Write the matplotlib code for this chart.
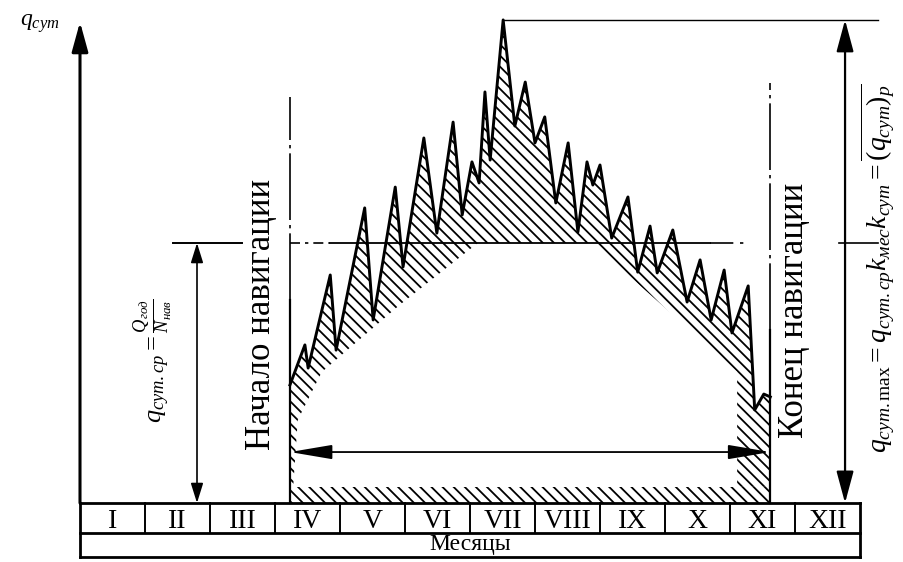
import numpy as np
import matplotlib
matplotlib.use('Agg')
import matplotlib.pyplot as plt
from matplotlib.patches import Polygon

plt.rcParams['font.family'] = ['Liberation Serif', 'DejaVu Serif']
plt.rcParams['mathtext.fontset'] = 'custom'
plt.rcParams['mathtext.rm'] = 'Liberation Serif'
plt.rcParams['mathtext.it'] = 'Liberation Serif:italic'
plt.rcParams['mathtext.bf'] = 'Liberation Serif:bold'
plt.rcParams['hatch.linewidth'] = 1.3

# ---- данные (x = месяцы от начала года, q = доли среднесуточного) ----
months = ['I', 'II', 'III', 'IV', 'V', 'VI', 'VII', 'VIII', 'IX', 'X', 'XI', 'XII']
nav_start, nav_end = 3.23, 10.62
q_avg = 1.0
# суточная неравномерность (пилообразная кривая)
zz_m = [3.23, 3.46, 3.51, 3.85, 3.94, 4.38, 4.51, 4.85, 4.97, 5.29, 5.49, 5.74, 5.88,
        6.03, 6.14, 6.23, 6.31, 6.51, 6.69, 6.85, 7.00, 7.15, 7.32, 7.51, 7.66, 7.80,
        7.89, 8.00, 8.18, 8.43, 8.58, 8.77, 8.88, 9.12, 9.34, 9.54, 9.71, 9.91, 10.03,
        10.28, 10.38, 10.52, 10.62]
zz_q = [0.454, 0.608, 0.519, 0.877, 0.588, 1.135, 0.704, 1.215, 0.908, 1.404, 1.038, 1.465, 1.108,
        1.312, 1.231, 1.581, 1.319, 1.858, 1.450, 1.619, 1.385, 1.485, 1.154, 1.385, 1.042, 1.312,
        1.223, 1.300, 1.019, 1.177, 0.888, 1.065, 0.885, 1.050, 0.773, 0.935, 0.704, 0.896, 0.654,
        0.835, 0.358, 0.419, 0.408]
# нижняя граница заштрихованной области (справа налево)
env_m = [10.62, 10.11, 10.11, 7.88, 6.12, 4.92, 3.72, 3.35, 3.28, 3.23]
env_q = [0.062, 0.062, 0.504, 1.0, 1.0, 0.762, 0.504, 0.319, 0.062, 0.062]
strip_q = 0.062

fig = plt.figure(figsize=(9.04, 5.62), dpi=100)
ax = fig.add_axes([0, 0, 1, 1])
ax.set_xlim(-80/65, 824/65); ax.set_ylim(-59/260, 503/260); ax.axis('off')
K = dict(color='k')

# штриховка
pts = np.column_stack([zz_m + env_m, zz_q + env_q])
ax.add_patch(Polygon(pts, closed=True, fill=False, hatch='\\\\\\', edgecolor='k', lw=0))
ax.add_patch(Polygon([[nav_start, 0], [nav_end, 0], [nav_end, strip_q], [nav_start, strip_q]],
                     closed=True, fill=False, hatch='\\\\\\', edgecolor='k', lw=0))
ax.plot(zz_m, zz_q, lw=2.1, solid_joinstyle='round', **K)

# границы навигации
ax.plot([nav_start]*2, [0, 0.78], lw=1.6, **K)
ax.plot([nav_start]*2, [0.78, 1.56], lw=1.2, ls=(0, (40, 3, 2, 3)), **K)
ax.plot([nav_end]*2, [0, 0.665], lw=1.6, **K)
ax.plot([nav_end]*2, [0.665, 1.615], lw=1.2, ls=(0, (40, 3, 2, 3)), **K)

# средняя линия
ax.plot([1.43, 2.49], [q_avg]*2, lw=1.4, **K)
ax.plot([nav_start, 3.85], [q_avg]*2, lw=1.2, ls=(0, (6, 3, 2, 3)), **K)
ax.plot([3.85, 9.7], [q_avg]*2, lw=1.3, **K)
ax.plot([9.7, 10.3], [q_avg]*2, lw=1.2, ls=(0, (14, 4, 2, 4)), **K)
ax.plot([11.67, 12.27], [q_avg]*2, lw=1.2, **K)
q_max = max(zz_q); m_max = zz_m[zz_q.index(q_max)]
ax.plot([m_max, 12.27], [q_max]*2, lw=1.0, **K)

# оси и размерные стрелки
def arrow(x0, y0, x1, y1, style, ms=15, lw=1.6):
    ax.annotate('', xy=(x1, y1), xytext=(x0, y0),
                arrowprops=dict(arrowstyle=style, color='k', lw=lw, mutation_scale=ms,
                                shrinkA=0, shrinkB=0))
arrow(0, 0, 0, 1.85, '-|>,head_length=1.2,head_width=0.33', lw=2.2)
arrow(1.8, 0, 1.8, q_avg, '<|-|>,head_length=0.8,head_width=0.25', lw=1.2)
arrow(11.77, 0, 11.77, q_max, '<|-|>,head_length=1.3,head_width=0.35', lw=1.6)
arrow(nav_start, 0.196, nav_end, 0.196, '<|-|>,head_length=1.3,head_width=0.22', ms=20, lw=1.3)

# таблица месяцев
row1, row2 = -0.115, -0.208
for y in (0, row1, row2):
    ax.plot([0, 12], [y, y], lw=2.0, **K)
for i in range(13):
    ax.plot([i, i], [0, row2 if i in (0, 12) else row1], lw=2.0 if i in (0, 12) else 1.4, **K)
for i, lab in enumerate(months):
    ax.text(i + 0.5, -0.097, lab, ha='center', va='baseline', fontsize=20)
ax.text(6, (row1 + row2)/2, 'Месяцы', ha='center', va='center', fontsize=17)

# подписи
ax.text(-0.62, 1.842, r'$q_{сут}$', ha='center', va='center', fontsize=17)
ax.text(2.8, 0.727, 'Начало навигации', rotation=90, ha='center', va='center', fontsize=25)
ax.text(11.0, 0.742, 'Конец навигации', rotation=90, ha='center', va='center', fontsize=25)
ax.text(1.13, 0.546, r'$q_{сут.ср}=\frac{Q_{год}}{N_{нав}}$', rotation=90,
        ha='center', va='center', fontsize=19)
ax.text(12.27, 0.904, r'$q_{сут.\mathrm{max}}=q_{сут.ср}k_{мес}k_{сут}=\overline{(q_{сут})_{p}}$',
        rotation=90, ha='center', va='center', fontsize=20)

fig.savefig('out.png', dpi=100)
